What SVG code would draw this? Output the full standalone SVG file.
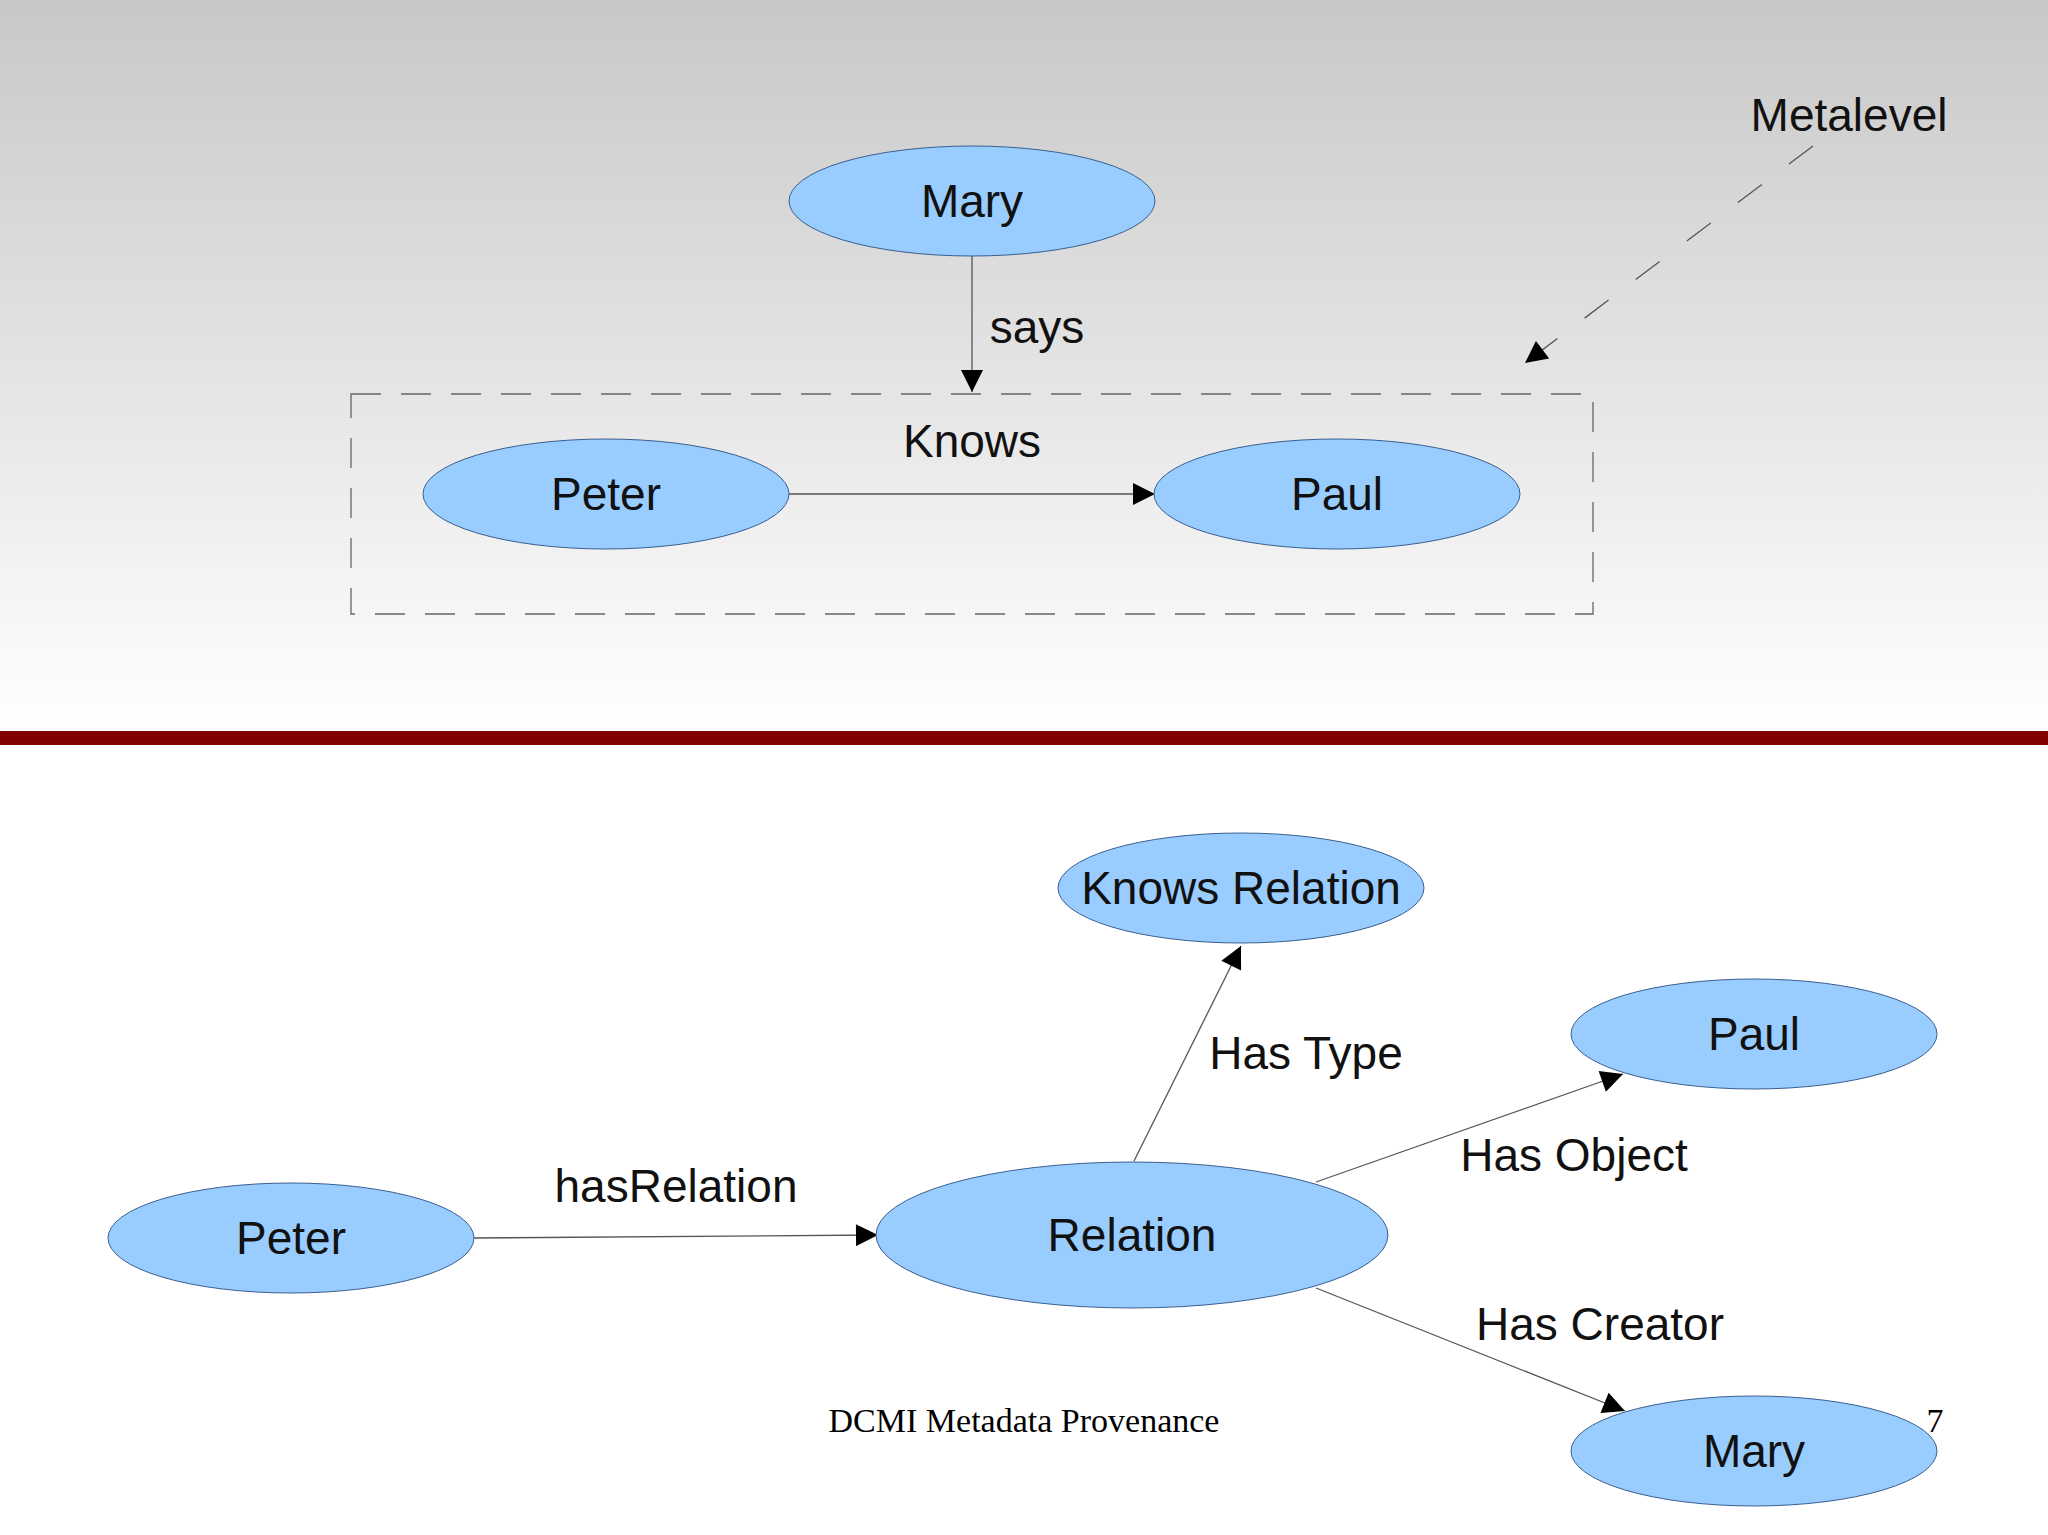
<svg xmlns="http://www.w3.org/2000/svg" width="2048" height="1535" viewBox="0 0 2048 1535">
<defs>
<linearGradient id="bg" x1="0" y1="0" x2="0" y2="1"><stop offset="0" stop-color="#c8c8c8"/><stop offset="1" stop-color="#ffffff"/></linearGradient>
<marker id="ah" viewBox="0 0 10 10" refX="10" refY="5" markerWidth="30" markerHeight="22" markerUnits="userSpaceOnUse" orient="auto"><path d="M0,0 L10,5 L0,10 z" fill="#000"/></marker>
<style>
.n{fill:#99ccff;stroke:#3a5f8f;stroke-width:1}
.t{font-family:"Liberation Sans",Arial,sans-serif;font-size:46px;fill:#111;text-anchor:middle;dominant-baseline:central}
.e{stroke:#555;stroke-width:1.3;fill:none;marker-end:url(#ah)}
</style>
</defs>
<rect width="2048" height="731" fill="url(#bg)"/>
<rect y="731" width="2048" height="804" fill="#fff"/>
<rect y="731" width="2048" height="14" fill="#800000"/>
<rect x="351" y="394" width="1242" height="220" fill="none" stroke="#666" stroke-width="1.3" stroke-dasharray="30,20"/>
<g id="connectors">
<line class="e" x1="972" y1="256" x2="972" y2="392"/>
<line class="e" x1="789" y1="494" x2="1155" y2="494"/>
<line class="e" x1="1813" y1="146" x2="1525" y2="363" stroke-dasharray="30,34"/>
<line class="e" x1="474" y1="1238" x2="878" y2="1235"/>
<line class="e" x1="1134" y1="1161" x2="1241" y2="946"/>
<line class="e" x1="1316" y1="1182" x2="1623" y2="1074"/>
<line class="e" x1="1316" y1="1288" x2="1625" y2="1411"/>
<text class="t" x="1037" y="327">says</text>
<text class="t" x="972" y="441">Knows</text>
<text class="t" x="1849" y="115">Metalevel</text>
<text class="t" x="676" y="1186">hasRelation</text>
<text class="t" x="1306" y="1053">Has Type</text>
<text class="t" x="1574" y="1155">Has Object</text>
<text class="t" x="1600" y="1324">Has Creator</text>
</g>
<g id="mary1"><ellipse class="n" cx="972" cy="201" rx="183" ry="55"/><text class="t" x="972" y="201">Mary</text></g>
<g id="peter1"><ellipse class="n" cx="606" cy="494" rx="183" ry="55"/><text class="t" x="606" y="494">Peter</text></g>
<g id="paul1"><ellipse class="n" cx="1337" cy="494" rx="183" ry="55"/><text class="t" x="1337" y="494">Paul</text></g>
<g id="knowsrel"><ellipse class="n" cx="1241" cy="888" rx="183" ry="55"/><text class="t" x="1241" y="888">Knows Relation</text></g>
<g id="paul2"><ellipse class="n" cx="1754" cy="1034" rx="183" ry="55"/><text class="t" x="1754" y="1034">Paul</text></g>
<g id="peter2"><ellipse class="n" cx="291" cy="1238" rx="183" ry="55"/><text class="t" x="291" y="1238">Peter</text></g>
<g id="relation"><ellipse class="n" cx="1132" cy="1235" rx="256" ry="73"/><text class="t" x="1132" y="1235">Relation</text></g>
<g id="mary2"><ellipse class="n" cx="1754" cy="1451" rx="183" ry="55"/><text class="t" x="1754" y="1451">Mary</text></g>
<text x="1024" y="1420" font-family="Liberation Serif,serif" font-size="34" text-anchor="middle" dominant-baseline="central">DCMI Metadata Provenance</text>
<text x="1935" y="1420" font-family="Liberation Serif,serif" font-size="34" text-anchor="middle" dominant-baseline="central">7</text>
</svg>
